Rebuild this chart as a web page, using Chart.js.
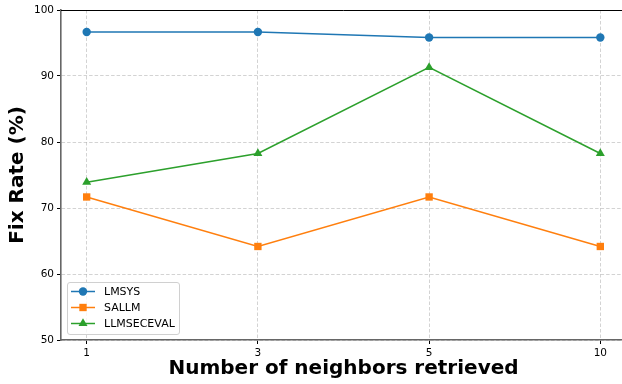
<!DOCTYPE html>
<html>
<head>
<meta charset="utf-8">
<script src="https://cdn.jsdelivr.net/npm/chart.js@4/dist/chart.umd.min.js"></script>
<style>
  html, body { margin: 0; padding: 0; background: #fff; overflow: hidden; }
  #wrap { width: 622px; height: 384px; overflow: hidden; position: relative; }
  canvas { display: block; }
</style>
</head>
<body>
<div id="wrap"><canvas id="c" width="626" height="384"></canvas></div>
<script>
// Number of neighbours retrieved (shown as evenly spaced categories)
const neighbors = ['1', '3', '5', '10'];

// Fix rate (%) per benchmark
const lmsys = [96.67, 96.67, 95.83, 95.83];
const sallm = [71.67, 64.17, 71.67, 64.17];
const llmseceval = [73.91, 78.26, 91.30, 78.26];

const yTicks = [50, 60, 70, 80, 90, 100];

const FONT = 'DejaVu Sans';

function pts(values) {
  return values.map((v, i) => ({ x: i, y: v }));
}

const series = [
  { label: 'LMSYS', values: lmsys, color: '#1f77b4', style: 'circle', radius: 4.2, order: 3 },
  { label: 'SALLM', values: sallm, color: '#ff7f0e', style: 'rect', radius: 5.2, order: 2 },
  { label: 'LLMSECEVAL', values: llmseceval, color: '#2ca02c', style: 'triangle', radius: 5.2, order: 1 }
];

// Top spine, drawn over the plot area
const topSpine = {
  id: 'topSpine',
  afterDatasetsDraw(chart) {
    const { ctx, chartArea: a } = chart;
    ctx.save();
    ctx.strokeStyle = '#000';
    ctx.lineWidth = 1;
    ctx.beginPath();
    ctx.moveTo(a.left, a.top + 0.5);
    ctx.lineTo(a.right, a.top + 0.5);
    ctx.stroke();
    ctx.restore();
  }
};

// Framed legend in the lower-left corner of the plot
const cornerLegend = {
  id: 'cornerLegend',
  afterDraw(chart) {
    const { ctx, chartArea: a } = chart;
    const x0 = a.left + 6, y0 = a.bottom - 58, w = 112, h = 52;
    ctx.save();
    ctx.fillStyle = 'rgba(255,255,255,0.8)';
    ctx.strokeStyle = '#d0d0d0';
    ctx.lineWidth = 1;
    ctx.beginPath();
    ctx.roundRect(x0 + 0.5, y0 + 0.5, w, h, 2.5);
    ctx.fill();
    ctx.stroke();
    ctx.font = `11px "${FONT}"`;
    ctx.textBaseline = 'middle';
    chart.data.datasets.forEach((ds, i) => {
      const cy = y0 + 9.5 + i * 16;
      ctx.strokeStyle = ds.borderColor;
      ctx.lineWidth = 1.5;
      ctx.beginPath();
      ctx.moveTo(x0 + 4, cy);
      ctx.lineTo(x0 + 28, cy);
      ctx.stroke();
      ctx.fillStyle = ds.borderColor;
      ctx.strokeStyle = ds.borderColor;
      ctx.lineWidth = 0;
      Chart.helpers.drawPoint(ctx, { pointStyle: ds.pointStyle, radius: ds.pointRadius, borderWidth: 0 }, x0 + 16, cy);
      ctx.fillStyle = '#000';
      ctx.fillText(ds.label, x0 + 37, cy + 0.5);
    });
    ctx.restore();
  }
};

const gridOpts = {
  color: 'rgba(176,176,176,0.7)',
  lineWidth: 0.8,
  drawTicks: true,
  tickLength: 4,
  tickColor: '#000',
  tickWidth: 1,
  tickBorderDash: []
};

new Chart(document.getElementById('c'), {
  type: 'line',
  data: {
    datasets: series.map(s => ({
      label: s.label,
      data: pts(s.values),
      borderColor: s.color,
      backgroundColor: s.color,
      pointBackgroundColor: s.color,
      pointBorderColor: s.color,
      pointStyle: s.style,
      pointRadius: s.radius,
      pointBorderWidth: 0,
      borderWidth: 1.5,
      tension: 0,
      fill: false,
      order: s.order
    }))
  },
  options: {
    responsive: false,
    animation: false,
    events: [],
    // the canvas is wider than the page, so the plot runs past its right edge
    layout: { autoPadding: false, padding: { top: 10, right: 0, left: 0, bottom: 0 } },
    plugins: { legend: { display: false }, tooltip: { enabled: false } },
    scales: {
      x: {
        type: 'linear',
        min: -0.15,
        max: 3.15,
        afterFit(scale) { scale.height = 44; },
        afterBuildTicks(scale) {
          scale.ticks = neighbors.map((_, i) => ({ value: i }));
        },
        ticks: {
          autoSkip: false,
          maxRotation: 0,
          padding: 3,
          color: '#000',
          font: { family: FONT, size: 10.5 },
          callback: (v) => neighbors[v]
        },
        grid: gridOpts,
        border: { color: '#666', width: 1.6, dash: [3.5, 2] },
        title: {
          display: true,
          text: 'Number of neighbors retrieved',
          color: '#000',
          font: { family: FONT, size: 20, weight: 'bold' },
          padding: { top: 0, bottom: 3 }
        }
      },
      y: {
        min: 50,
        max: 100,
        afterFit(scale) { scale.width = 61; },
        afterBuildTicks(scale) {
          scale.ticks = yTicks.map(v => ({ value: v }));
        },
        ticks: {
          padding: 3,
          color: '#000',
          font: { family: FONT, size: 10.5 }
        },
        grid: gridOpts,
        border: { color: '#666', width: 1.6, dash: [3.5, 2] },
        title: {
          display: true,
          text: 'Fix Rate (%)',
          color: '#000',
          font: { family: FONT, size: 20, weight: 'bold' },
          padding: { top: 6, bottom: 0 }
        }
      }
    }
  },
  plugins: [topSpine, cornerLegend]
});
</script>
</body>
</html>
